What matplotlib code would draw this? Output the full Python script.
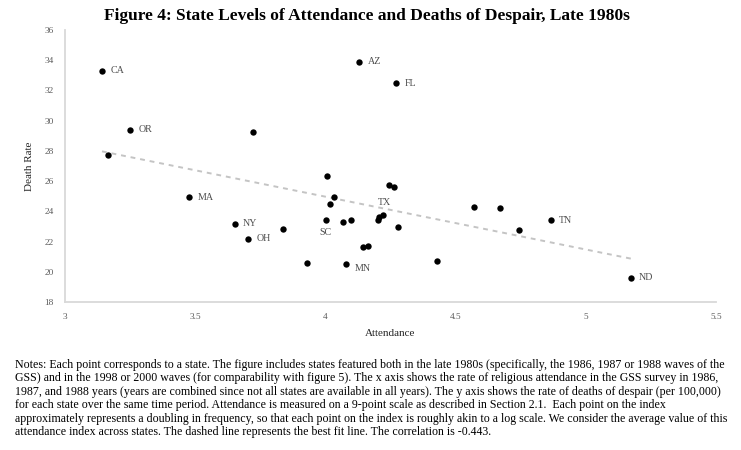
import matplotlib
matplotlib.use("Agg")
import matplotlib.pyplot as plt
import numpy as np

plt.rcParams['font.family'] = ['Liberation Serif', 'DejaVu Serif']

# Data
attendance = [3.142, 3.250, 3.723, 3.166, 4.130, 4.272, 4.007, 4.244, 4.265,
              3.477, 3.651, 3.702, 3.838, 3.931, 4.081, 4.034, 4.017, 4.002,
              4.066, 4.098, 4.205, 4.221, 4.203, 4.278, 4.146, 4.164, 4.428,
              4.571, 4.669, 4.742, 4.866, 5.173]
death_rate = [33.31, 29.40, 29.22, 27.76, 33.90, 32.47, 26.33, 25.77, 25.64,
              24.94, 23.19, 22.19, 22.84, 20.56, 20.52, 24.96, 24.49, 23.45,
              23.28, 23.43, 23.62, 23.78, 23.45, 22.95, 21.62, 21.69, 20.72,
              24.30, 24.21, 22.79, 23.41, 19.59]
state_labels = ["CA", "OR", "", "", "AZ", "FL", "", "", "",
                "MA", "NY", "OH", "", "", "MN", "", "", "SC",
                "", "", "", "TX", "", "", "", "", "",
                "", "", "", "TN", "ND"]

fit_slope = -3.495
fit_intercept = 38.95

x_ticks = [3, 3.5, 4, 4.5, 5, 5.5]
x_tick_labels = ["3", "3.5", "4", "4.5", "5", "5.5"]
y_ticks = [18, 20, 22, 24, 26, 28, 30, 32, 34, 36]

title = "Figure 4: State Levels of Attendance and Deaths of Despair, Late 1980s"
notes_lines = [
    "Notes: Each point corresponds to a state. The figure includes states featured both in the late 1980s (specifically, the 1986, 1987 or 1988 waves of the",
    "GSS) and in the 1998 or 2000 waves (for comparability with figure 5). The x axis shows the rate of religious attendance in the GSS survey in 1986,",
    "1987, and 1988 years (years are combined since not all states are available in all years). The y axis shows the rate of deaths of despair (per 100,000)",
    "for each state over the same time period. Attendance is measured on a 9-point scale as described in Section 2.1.  Each point on the index",
    "approximately represents a doubling in frequency, so that each point on the index is roughly akin to a log scale. We consider the average value of this",
    "attendance index across states. The dashed line represents the best fit line. The correlation is -0.443.",
]

fig = plt.figure(figsize=(7.41, 4.5), dpi=100)
ax = fig.add_axes([65/741, 1-302/450, (716-65)/741, (302-30)/450])

x = np.array(attendance)
y = np.array(death_rate)
xs = np.array([x.min(), x.max()])
ax.plot(xs, fit_intercept + fit_slope*xs, color='#c4c4c4', lw=1.4,
        linestyle=(0, (2.5, 2.5)), zorder=1)
ax.scatter(x, y, s=21, color='black', zorder=3, linewidths=0)

# label placements (offsets in points)
offsets = {"SC": (0, -9, 'center'), "TX": (1, 9, 'center'), "MN": (6, -3, 'left')}
for xi, yi, lab in zip(attendance, death_rate, state_labels):
    if not lab:
        continue
    dx, dy, ha = offsets.get(lab, (6, 0, 'left'))
    ax.annotate(lab, (xi, yi), xytext=(dx, dy), textcoords='offset points',
                ha=ha, va='center', fontsize=7.2, color='#4d4d4d')

ax.set_xlim(3, 5.5)
ax.set_ylim(18, 36)
ax.set_xticks(x_ticks)
ax.set_xticklabels(x_tick_labels)
ax.set_yticks(y_ticks)
ax.tick_params(length=0, labelsize=6.7, labelcolor='#595959', pad=8)
for s in ['top', 'right']:
    ax.spines[s].set_visible(False)
for s in ['left', 'bottom']:
    ax.spines[s].set_color('#d9d9d9')
    ax.spines[s].set_linewidth(1.3)
ax.set_xlabel("Attendance", fontsize=8, color='#262626', labelpad=6)
ax.set_ylabel("Death Rate", fontsize=8, color='#262626', labelpad=8)

fig.text(367/741, 1-16/450, title, ha='center', va='center',
         fontsize=12.5, fontweight='bold')

for i, line in enumerate(notes_lines):
    fig.text(15/741, 1-(365 + i*13.4)/450, line, ha='left', va='center',
             fontsize=8.6)

fig.savefig("out.png", dpi=100)
